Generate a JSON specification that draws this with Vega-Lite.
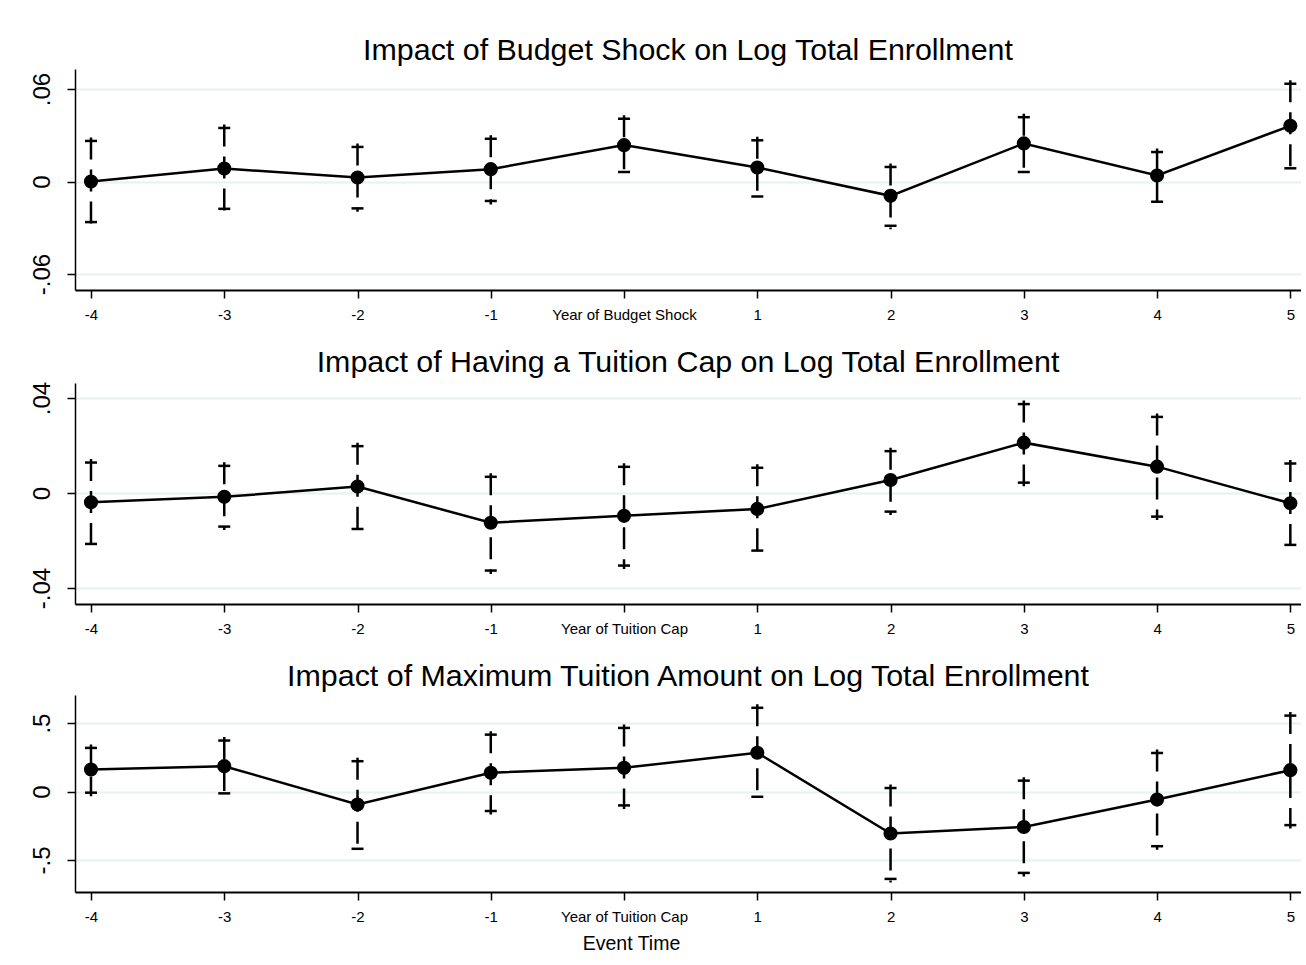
{
  "$schema": "https://vega.github.io/schema/vega-lite/v6.json",
  "background": "white",
  "padding": {"left": 29, "top": 35, "right": 0, "bottom": 0},
  "spacing": 25,
  "config": {"view": {"stroke": null}, "font": "Liberation Sans"},
  "data": {"values": [
    {"panel": 1, "t": -4, "b": 0.0, "lo": -0.0286, "hi": 0.0286},
    {"panel": 1, "t": -3, "b": 0.0084, "lo": -0.020, "hi": 0.037},
    {"panel": 1, "t": -2, "b": 0.0026, "lo": -0.0197, "hi": 0.0247},
    {"panel": 1, "t": -1, "b": 0.008, "lo": -0.0149, "hi": 0.030},
    {"panel": 1, "t": 0, "b": 0.0236, "lo": 0.0039, "hi": 0.043},
    {"panel": 1, "t": 1, "b": 0.0091, "lo": -0.012, "hi": 0.029},
    {"panel": 1, "t": 2, "b": -0.0093, "lo": -0.031, "hi": 0.0117},
    {"panel": 1, "t": 3, "b": 0.0247, "lo": 0.0039, "hi": 0.044},
    {"panel": 1, "t": 4, "b": 0.0039, "lo": -0.0154, "hi": 0.0214},
    {"panel": 1, "t": 5, "b": 0.0361, "lo": 0.0063, "hi": 0.0657},
    {"panel": 2, "t": -4, "b": -0.0039, "lo": -0.0229, "hi": 0.0143},
    {"panel": 2, "t": -3, "b": -0.0016, "lo": -0.0156, "hi": 0.0129},
    {"panel": 2, "t": -2, "b": 0.0027, "lo": -0.0166, "hi": 0.0212},
    {"panel": 2, "t": -1, "b": -0.0125, "lo": -0.0341, "hi": 0.0083},
    {"panel": 2, "t": 0, "b": -0.0096, "lo": -0.032, "hi": 0.0125},
    {"panel": 2, "t": 1, "b": -0.0067, "lo": -0.0257, "hi": 0.0121},
    {"panel": 2, "t": 2, "b": 0.0055, "lo": -0.0093, "hi": 0.0191},
    {"panel": 2, "t": 3, "b": 0.0212, "lo": 0.0029, "hi": 0.0389},
    {"panel": 2, "t": 4, "b": 0.0111, "lo": -0.0114, "hi": 0.0335},
    {"panel": 2, "t": 5, "b": -0.0043, "lo": -0.0233, "hi": 0.0139},
    {"panel": 3, "t": -4, "b": 0.161, "lo": -0.034, "hi": 0.344},
    {"panel": 3, "t": -3, "b": 0.185, "lo": -0.039, "hi": 0.398},
    {"panel": 3, "t": -2, "b": -0.095, "lo": -0.444, "hi": 0.247},
    {"panel": 3, "t": -1, "b": 0.137, "lo": -0.168, "hi": 0.441},
    {"panel": 3, "t": 0, "b": 0.173, "lo": -0.127, "hi": 0.49},
    {"panel": 3, "t": 1, "b": 0.283, "lo": -0.064, "hi": 0.637},
    {"panel": 3, "t": 2, "b": -0.307, "lo": -0.664, "hi": 0.051},
    {"panel": 3, "t": 3, "b": -0.259, "lo": -0.62, "hi": 0.105},
    {"panel": 3, "t": 4, "b": -0.059, "lo": -0.425, "hi": 0.307},
    {"panel": 3, "t": 5, "b": 0.156, "lo": -0.271, "hi": 0.58}
  ]},
  "vconcat": [
    {
      "title": {"text": "Impact of Budget Shock on Log Total Enrollment", "fontSize": 30.4, "fontWeight": "normal", "offset": 3, "anchor": "middle", "color": "black"},
      "width": 1226, "height": 221,
      "transform": [{"filter": "datum.panel == 1"}],
      "encoding": {
        "x": {"field": "t", "type": "quantitative", "scale": {"domain": [-4.12, 5.08], "nice": false, "zero": false},
          "axis": {"values": [-4, -3, -2, -1, 0, 1, 2, 3, 4, 5], "labelExpr": "datum.value == 0 ? 'Year of Budget Shock' : '' + datum.value", "labelFontSize": 15, "labelPadding": 9, "tickSize": 8, "tickWidth": 1.5, "tickColor": "black", "domainColor": "black", "domainWidth": 2, "grid": false, "title": null, "labelColor": "black", "labelFlush": false, "labelOverlap": false}}
      },
      "layer": [
        {"mark": {"type": "rule", "strokeDash": [22, 10], "strokeWidth": 2.5, "color": "black"},
         "encoding": {"y": {"field": "hi", "type": "quantitative", "title": null, "scale": {"domain": [-0.0704, 0.073], "nice": false, "zero": false},
           "axis": {"values": [-0.06, 0, 0.06], "labelExpr": "datum.value > 0 ? '.06' : (datum.value < 0 ? '-.06' : '0')", "labelAngle": -90, "labelAlign": "center", "labelBaseline": "bottom", "labelFontSize": 24, "labelPadding": 13, "tickSize": 8, "tickColor": "black", "tickWidth": 1.5, "domainColor": "black", "domainWidth": 1.5, "grid": true, "gridColor": "#e9f0f2", "gridWidth": 2, "title": null, "labelColor": "black"}},
           "y2": {"field": "lo"}}},
        {"mark": {"type": "tick", "orient": "horizontal", "size": 12, "thickness": 2.5, "color": "black", "opacity": 1, "yOffset": 3.5},
         "encoding": {"y": {"field": "hi", "type": "quantitative", "title": null}}},
        {"mark": {"type": "tick", "orient": "horizontal", "size": 12, "thickness": 2.5, "color": "black", "opacity": 1, "yOffset": -3.5},
         "encoding": {"y": {"field": "lo", "type": "quantitative", "title": null}}},
        {"mark": {"type": "line", "color": "black", "strokeWidth": 2.5},
         "encoding": {"y": {"field": "b", "type": "quantitative", "title": null}}},
        {"mark": {"type": "point", "filled": true, "size": 200, "color": "black", "opacity": 1},
         "encoding": {"y": {"field": "b", "type": "quantitative", "title": null}}}
      ]
    },
    {
      "title": {"text": "Impact of Having a Tuition Cap on Log Total Enrollment", "fontSize": 30.4, "fontWeight": "normal", "offset": 3, "anchor": "middle", "color": "black"},
      "width": 1226, "height": 221,
      "transform": [{"filter": "datum.panel == 2"}],
      "encoding": {
        "x": {"field": "t", "type": "quantitative", "scale": {"domain": [-4.12, 5.08], "nice": false, "zero": false},
          "axis": {"values": [-4, -3, -2, -1, 0, 1, 2, 3, 4, 5], "labelExpr": "datum.value == 0 ? 'Year of Tuition Cap' : '' + datum.value", "labelFontSize": 15, "labelPadding": 9, "tickSize": 8, "tickWidth": 1.5, "tickColor": "black", "domainColor": "black", "domainWidth": 2, "grid": false, "title": null, "labelColor": "black", "labelFlush": false, "labelOverlap": false}}
      },
      "layer": [
        {"mark": {"type": "rule", "strokeDash": [22, 10], "strokeWidth": 2.5, "color": "black"},
         "encoding": {"y": {"field": "hi", "type": "quantitative", "title": null, "scale": {"domain": [-0.0467, 0.0463], "nice": false, "zero": false},
           "axis": {"values": [-0.04, 0, 0.04], "labelExpr": "datum.value > 0 ? '.04' : (datum.value < 0 ? '-.04' : '0')", "labelAngle": -90, "labelAlign": "center", "labelBaseline": "bottom", "labelFontSize": 24, "labelPadding": 13, "tickSize": 8, "tickColor": "black", "tickWidth": 1.5, "domainColor": "black", "domainWidth": 1.5, "grid": true, "gridColor": "#e9f0f2", "gridWidth": 2, "title": null, "labelColor": "black"}},
           "y2": {"field": "lo"}}},
        {"mark": {"type": "tick", "orient": "horizontal", "size": 12, "thickness": 2.5, "color": "black", "opacity": 1, "yOffset": 3.5},
         "encoding": {"y": {"field": "hi", "type": "quantitative", "title": null}}},
        {"mark": {"type": "tick", "orient": "horizontal", "size": 12, "thickness": 2.5, "color": "black", "opacity": 1, "yOffset": -3.5},
         "encoding": {"y": {"field": "lo", "type": "quantitative", "title": null}}},
        {"mark": {"type": "line", "color": "black", "strokeWidth": 2.5},
         "encoding": {"y": {"field": "b", "type": "quantitative", "title": null}}},
        {"mark": {"type": "point", "filled": true, "size": 200, "color": "black", "opacity": 1},
         "encoding": {"y": {"field": "b", "type": "quantitative", "title": null}}}
      ]
    },
    {
      "title": {"text": "Impact of Maximum Tuition Amount on Log Total Enrollment", "fontSize": 30.4, "fontWeight": "normal", "offset": 3, "anchor": "middle", "color": "black"},
      "width": 1226, "height": 197,
      "transform": [{"filter": "datum.panel == 3"}],
      "encoding": {
        "x": {"field": "t", "type": "quantitative", "scale": {"domain": [-4.12, 5.08], "nice": false, "zero": false},
          "axis": {"values": [-4, -3, -2, -1, 0, 1, 2, 3, 4, 5], "labelExpr": "datum.value == 0 ? 'Year of Tuition Cap' : '' + datum.value", "labelFontSize": 15, "labelPadding": 9, "tickSize": 8, "tickWidth": 1.5, "tickColor": "black", "domainColor": "black", "domainWidth": 2, "grid": false, "title": "Event Time", "titleX": 556, "titleFontSize": 19.5, "titleFontWeight": "normal", "titleColor": "black", "titlePadding": 10, "labelColor": "black", "labelFlush": false, "labelOverlap": false}}
      },
      "layer": [
        {"mark": {"type": "rule", "strokeDash": [22, 10], "strokeWidth": 2.5, "color": "black"},
         "encoding": {"y": {"field": "hi", "type": "quantitative", "title": null, "scale": {"domain": [-0.734, 0.705], "nice": false, "zero": false},
           "axis": {"values": [-0.5, 0, 0.5], "labelExpr": "datum.value > 0 ? '.5' : (datum.value < 0 ? '-.5' : '0')", "labelAngle": -90, "labelAlign": "center", "labelBaseline": "bottom", "labelFontSize": 24, "labelPadding": 13, "tickSize": 8, "tickColor": "black", "tickWidth": 1.5, "domainColor": "black", "domainWidth": 1.5, "grid": true, "gridColor": "#e9f0f2", "gridWidth": 2, "title": null, "labelColor": "black"}},
           "y2": {"field": "lo"}}},
        {"mark": {"type": "tick", "orient": "horizontal", "size": 12, "thickness": 2.5, "color": "black", "opacity": 1, "yOffset": 3.5},
         "encoding": {"y": {"field": "hi", "type": "quantitative", "title": null}}},
        {"mark": {"type": "tick", "orient": "horizontal", "size": 12, "thickness": 2.5, "color": "black", "opacity": 1, "yOffset": -3.5},
         "encoding": {"y": {"field": "lo", "type": "quantitative", "title": null}}},
        {"mark": {"type": "line", "color": "black", "strokeWidth": 2.5},
         "encoding": {"y": {"field": "b", "type": "quantitative", "title": null}}},
        {"mark": {"type": "point", "filled": true, "size": 200, "color": "black", "opacity": 1},
         "encoding": {"y": {"field": "b", "type": "quantitative", "title": null}}}
      ]
    }
  ]
}
